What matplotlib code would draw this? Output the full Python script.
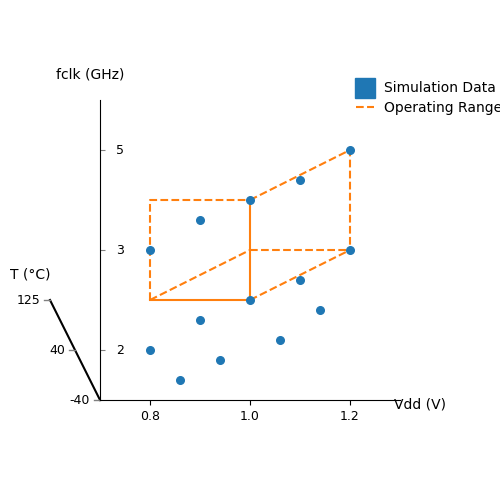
import matplotlib.pyplot as plt
from matplotlib.lines import Line2D

# simulation points in plot units (x = Vdd, y = fclk level + temperature depth offset)
vdd = [0.8, 0.8, 0.86, 0.9, 0.9, 0.94, 1.0, 1.0, 1.06, 1.1, 1.1, 1.14, 1.2, 1.2]
yy = [3, 1, 0.4, 1.6, 3.6, 0.8, 4, 2, 1.2, 4.4, 2.4, 1.8, 5, 3]

fclk_ticks = [1, 3, 5]
fclk_labels = ['2', '3', '5']
temp_labels = ['-40', '40', '125']
temp_depth = [0, 1, 2]

fig = plt.figure(figsize=(5, 5), dpi=100)
ax = fig.add_axes([0.2, 0.2, 0.6, 0.6])
ax.set_xlim(0.7, 1.3)
ax.set_ylim(0, 6)
for s in ['top', 'right']:
    ax.spines[s].set_visible(False)

orange = '#ff7f0e'
blue = '#1f77b4'
ax.scatter(vdd, yy, s=30, color=blue, zorder=3)
# operating range box
ax.plot([0.8, 0.8, 1.0], [2, 4, 4], '--', color=orange)
ax.plot([0.8, 1.0, 1.0], [2, 2, 4], '-', color=orange)
ax.plot([1.0, 1.2, 1.2], [4, 5, 3], '--', color=orange)
ax.plot([1.0, 1.2, 1.2], [3, 3, 3], '--', color=orange)
ax.plot([0.8, 1.0], [2, 3], '--', color=orange)
ax.plot([1.0, 1.2], [2, 3], '--', color=orange)

ax.set_xticks([0.8, 1.0, 1.2])
ax.set_xticklabels(['0.8', '1.0', '1.2'], fontsize=9)
ax.set_yticks(fclk_ticks)
ax.set_yticklabels([])
ax.tick_params(axis='y', direction='in', color='gray')
for t, l in zip(fclk_ticks, fclk_labels):
    ax.text(0.74, t, l, ha='center', va='center', fontsize=9)

# temperature axis drawn as a slanted line
ax.plot([0.7, 0.6], [0, 2], color='black', lw=1.5, clip_on=False)
for d, l in zip(temp_depth, temp_labels):
    x0 = 0.7 - 0.05 * d
    ax.plot([x0 - 0.012, x0], [d, d], color='gray', lw=1, clip_on=False)
    ax.text(x0 - 0.02, d, l, ha='right', va='center', fontsize=9)

ax.text(0.68, 6.5, 'fclk (GHz)', ha='center', va='center', fontsize=10)
ax.text(1.34, -0.1, 'Vdd (V)', ha='center', va='center', fontsize=10)
ax.text(0.56, 2.5, 'T (°C)', ha='center', va='center', fontsize=10)

handles = [Line2D([], [], marker='s', ls='', color=blue, markersize=14),
           Line2D([], [], ls='--', color=orange)]
ax.legend(handles, ['Simulation Data', 'Operating Range'], loc='upper left',
          bbox_to_anchor=(0.83, 1.085), frameon=False, fontsize=10,
          borderpad=0, handlelength=1.3, handletextpad=0.7, labelspacing=0.4)
fig.savefig('out.png')
